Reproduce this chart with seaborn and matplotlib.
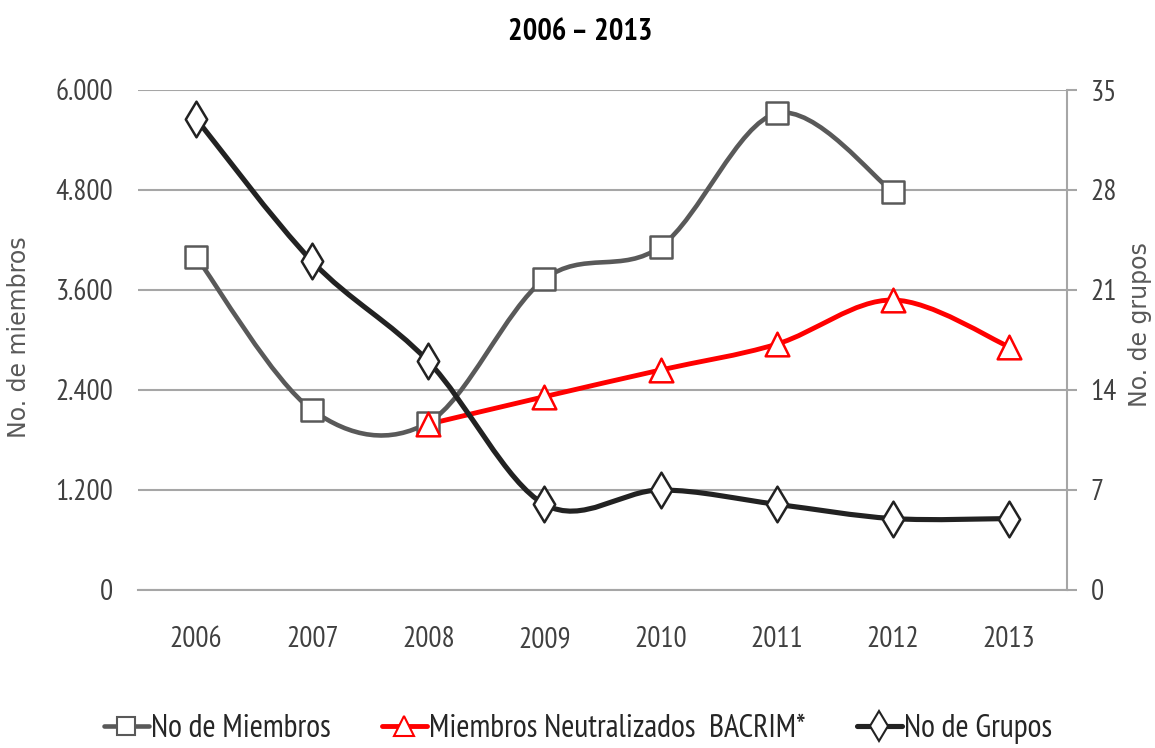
import matplotlib
matplotlib.use("Agg")
import matplotlib.pyplot as plt
from matplotlib.path import Path
from matplotlib.patches import PathPatch
from matplotlib.lines import Line2D
from matplotlib.ticker import FuncFormatter
from matplotlib import font_manager
import seaborn as sns
import pandas as pd
import numpy as np

years = ["2006", "2007", "2008", "2009", "2010", "2011", "2012", "2013"]
miembros = [4000, 2160, 2010, 3730, 4120, 5720, 4780, None]
neutralizados = [None, None, 1990, 2320, 2640, 2950, 3480, 2920]
grupos = [33, 23, 16, 6, 7, 6, 5, 5]

names = {f.name for f in font_manager.fontManager.ttflist}
narrow = next((n for n in ["PT Sans Narrow", "Fira Sans Extra Condensed", "Roboto Condensed", "Carlito"]
               if n in names), "DejaVu Sans")

sns.set_theme(style="white")
plt.rcParams["font.family"] = [narrow, "DejaVu Sans"]

fig = plt.figure(figsize=(11.55, 7.48), dpi=100)
ax = fig.add_axes([138/1155, 1 - 590/748, (1067-138)/1155, 500/748])
ax2 = ax.twinx()

def smooth_path(xs, ys):
    pts = [(x, y) for x, y in zip(xs, ys) if y is not None]
    P = np.array(pts, dtype=float)
    n = len(P)
    verts = [P[0]]
    codes = [Path.MOVETO]
    for i in range(n - 1):
        p0 = P[i - 1] if i > 0 else P[i]
        p1 = P[i]
        p2 = P[i + 1]
        p3 = P[i + 2] if i + 2 < n else P[i + 1]
        c1 = p1 + (p2 - p0) / 6.0
        c2 = p2 - (p3 - p1) / 6.0
        verts += [c1, c2, p2]
        codes += [Path.CURVE4] * 3
    return Path(np.array(verts), codes)

xs = list(range(len(years)))
c_m = "#595959"
c_r = "#ff0000"
c_g = "#222222"

df = pd.DataFrame({"x": xs, "miembros": miembros, "neut": neutralizados, "grupos": grupos})

ax.add_patch(PathPatch(smooth_path(xs, miembros), fill=False, edgecolor=c_m, lw=3.3, zorder=3,
                       capstyle="round", joinstyle="round"))
ax.add_patch(PathPatch(smooth_path(xs, neutralizados), fill=False, edgecolor=c_r, lw=3.5, zorder=3,
                       capstyle="round", joinstyle="round"))
ax2.add_patch(PathPatch(smooth_path(xs, grupos), fill=False, edgecolor=c_g, lw=3.7, zorder=3,
                        capstyle="round", joinstyle="round"))

sns.scatterplot(data=df.dropna(subset=["miembros"]), x="x", y="miembros", ax=ax, marker="s", s=260,
                facecolor="white", edgecolor=c_m, linewidth=1.8, zorder=5)
sns.scatterplot(data=df.dropna(subset=["neut"]), x="x", y="neut", ax=ax, marker="^", s=290,
                facecolor="white", edgecolor=c_r, linewidth=1.8, zorder=5)
sns.scatterplot(data=df, x="x", y="grupos", ax=ax2, marker="d", s=330,
                facecolor="white", edgecolor=c_g, linewidth=1.8, zorder=5)

ax.set_xlim(-0.5, 7.5)
ax.set_ylim(0, 6000)
ax2.set_ylim(0, 35)
ax.set_yticks([0, 1200, 2400, 3600, 4800, 6000])
ax2.set_yticks([0, 7, 14, 21, 28, 35])
ax.yaxis.set_major_formatter(FuncFormatter(lambda v, p: f"{int(v):,}".replace(",", ".")))
ax.set_xticks(xs)
ax.set_xticklabels(years)
ax.set_xlabel("")
ax.set_ylabel("")
ax2.set_ylabel("")

ax.grid(axis="y", color="#a6a6a6", lw=1.5)
ax.set_axisbelow(True)
for a in (ax, ax2):
    for s in ["top", "left"]:
        a.spines[s].set_visible(False)
ax.spines["right"].set_visible(False)
ax2.spines["bottom"].set_visible(False)
ax.spines["bottom"].set_color("#a6a6a6")
ax.spines["bottom"].set_linewidth(1.5)
ax2.spines["right"].set_color("#a6a6a6")
ax2.spines["right"].set_linewidth(1.5)

tick_color = "#404040"
fs = 21
ax.tick_params(axis="y", length=0, pad=18, labelsize=fs, labelcolor=tick_color)
ax.tick_params(axis="x", length=0, pad=26, labelsize=fs, labelcolor=tick_color)
ax2.tick_params(axis="y", length=7, width=1.5, color="#a6a6a6", pad=10, labelsize=fs, labelcolor=tick_color)

fig.text(19/1155, 1 - 337/748, "No. de miembros", rotation=90, ha="center", va="center",
         fontsize=17, color="#595959", family="DejaVu Sans")
fig.text(1140/1155, 1 - 325/748, "No. de grupos", rotation=90, ha="center", va="center",
         fontsize=17, color="#595959", family="DejaVu Sans")
fig.text(580/1155, 1 - 32/748, "2006 – 2013", ha="center", va="center", fontsize=22,
         fontweight="bold", color="black")

handles = [
    Line2D([], [], color=c_m, lw=3.3, marker="s", markersize=13, markerfacecolor="white",
           markeredgecolor=c_m, markeredgewidth=1.5),
    Line2D([], [], color=c_r, lw=3.5, marker="^", markersize=14, markerfacecolor="white",
           markeredgecolor=c_r, markeredgewidth=1.5),
    Line2D([], [], color=c_g, lw=3.7, marker="d", markersize=15, markerfacecolor="white",
           markeredgecolor=c_g, markeredgewidth=1.5),
]
labels = ["No de Miembros", "Miembros Neutralizados  BACRIM*", "No de Grupos"]
fig.legend(handles, labels, loc="center", bbox_to_anchor=(578/1155, 1 - 729/748), ncol=3,
           frameon=False, fontsize=23, handlelength=1.4, handletextpad=0.08, columnspacing=1.6,
           labelcolor="#262626")

fig.savefig("out.png", dpi=100)
